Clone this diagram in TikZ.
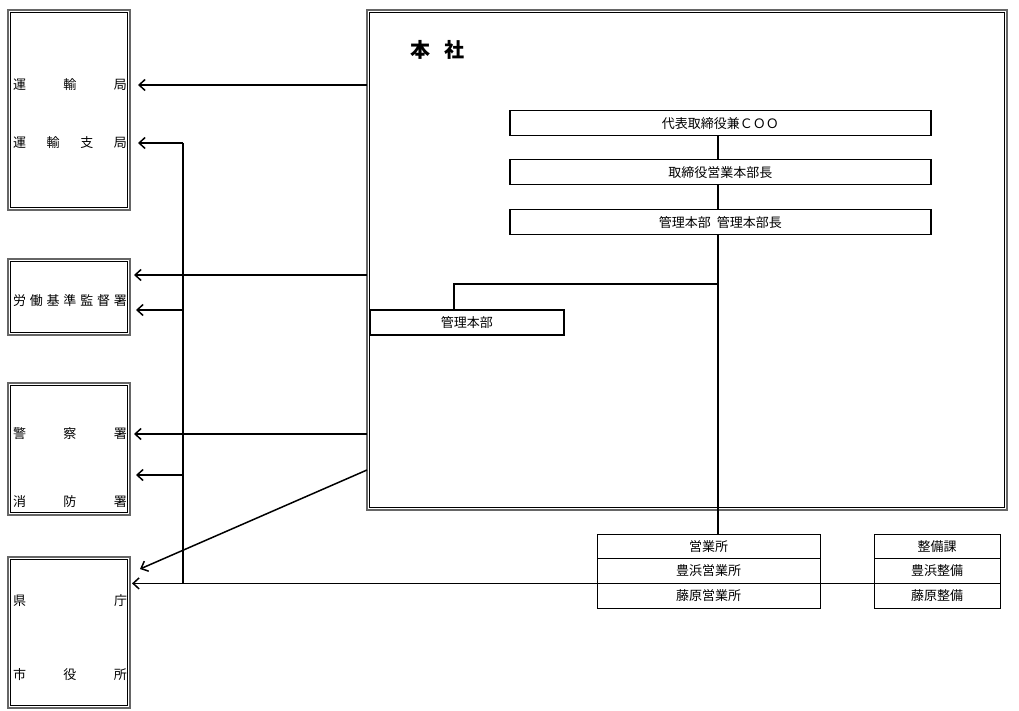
\documentclass[tikz,border=0pt]{standalone}
\usepackage{fontspec}
\setmainfont{Noto Sans CJK JP}
\usetikzlibrary{positioning, arrows.meta}

\newcommand{\spreadrow}[1]{\makebox[114pt][s]{#1}}

\tikzset{
  govbox/.style={draw=black!60, line width=1.6pt, anchor=north west, inner sep=0pt, outer sep=0pt},
  innerframe/.style={line width=0.9pt},
  orgbox/.style={draw, line width=1.5pt, minimum width=421pt, minimum height=25pt,
    inner sep=0pt, anchor=north west, font=\fontsize{13}{15}\selectfont},
  cellbox/.style={draw, line width=1pt, minimum height=24.7pt, inner sep=0pt,
    outer sep=0pt, font=\fontsize{13}{15}\selectfont},
  rowtext/.style={inner sep=0pt, font=\fontsize{13}{15}\selectfont},
  link/.style={line width=1.5pt},
  arr/.style={line width=1.5pt, -{Straight Barb[length=6pt,width=11pt]}, shorten >=6pt},
}

\begin{document}
\begin{tikzpicture}[x=1pt, y=-1pt]
\useasboundingbox (0,0) rectangle (1019,711);

% authorities on the left
\node[govbox, minimum width=122pt, minimum height=200pt] (unyu) at (8,10) {};
\node[rowtext] (unyu-a) at (70,85) {\spreadrow{運\hfill 輸\hfill 局}};
\node[rowtext] (unyu-b) at (70,143) {\spreadrow{運\hfill 輸\hfill 支\hfill 局}};

\node[govbox, minimum width=122pt, minimum height=76pt] (roudou) at (8,259) {};
\node[rowtext] (roudou-a) at (70,301) {\spreadrow{労\hfill 働\hfill 基\hfill 準\hfill 監\hfill 督\hfill 署}};

\node[govbox, minimum width=122pt, minimum height=132pt] (keisatsu) at (8,383) {};
\node[rowtext] (keisatsu-a) at (70,434) {\spreadrow{警\hfill 察\hfill 署}};
\node[rowtext] (keisatsu-b) at (70,502) {\spreadrow{消\hfill 防\hfill 署}};

\node[govbox, minimum width=122pt, minimum height=151pt] (ken) at (8,557) {};
\node[rowtext] (ken-a) at (70,601) {\spreadrow{県\hfill 庁}};
\node[rowtext] (ken-b) at (70,675) {\spreadrow{市\hfill 役\hfill 所}};

% head office
\node[govbox, minimum width=640pt, minimum height=500pt] (honsha) at (367,10) {};
\node[anchor=west, inner sep=0pt, font=\fontsize{20}{22}\selectfont\bfseries] (title) at (410,50) {本\hspace{14pt}社};

% double frames
\foreach \b in {unyu, roudou, keisatsu, ken, honsha}
\draw[innerframe] ([shift={(2.6pt,-2.6pt)}]\b.north west) rectangle ([shift={(-2.6pt,2.6pt)}]\b.south east);

\node[orgbox] (ceo) at (509,110) {代表取締役兼ＣＯＯ};
\node[orgbox] (eigyo-chief) at (509,159) {取締役営業本部長};
\node[orgbox] (kanri-chief) at (509,209) {管理本部\hspace{6pt}管理本部長};
\node[orgbox, minimum width=194pt] (kanri) at (369,309) {管理本部};

% branch offices
\node[cellbox, minimum width=223pt, anchor=north west] (sales-a) at (597,534) {営業所};
\node[cellbox, minimum width=223pt, below=0pt of sales-a] (sales-b) {豊浜営業所};
\node[cellbox, minimum width=223pt, below=0pt of sales-b] (sales-c) {藤原営業所};

\node[cellbox, minimum width=126pt, anchor=north west] (maint-a) at (874,534) {整備課};
\node[cellbox, minimum width=126pt, below=0pt of maint-a] (maint-b) {豊浜整備};
\node[cellbox, minimum width=126pt, below=0pt of maint-b] (maint-c) {藤原整備};

% lines inside head office
\coordinate (trunk) at (718,284);
\coordinate (kanri-top) at (454,284);
\draw[link] (ceo.south -| trunk) -- (eigyo-chief.north -| trunk);
\draw[link] (eigyo-chief.south -| trunk) -- (kanri-chief.north -| trunk);
\draw[link] (kanri-chief.south -| trunk) -- (trunk |- sales-a.north);
\draw[link] (trunk) -- (kanri-top) -- (kanri-top |- kanri.north);
\draw[link] (sales-c.north east) -- (maint-c.north west);

% reports to authorities
\coordinate (bus-top) at (183,143);
\coordinate (bus-r) at (183,310);
\coordinate (bus-s) at (183,475);
\coordinate (bus-bot) at (sales-c.north west -| bus-top);
\coordinate (h-roudou) at (367,275);
\coordinate (h-keisatsu) at (367,434);
\coordinate (h-ken) at (367,470);
\coordinate (ken-tip) at (140,569);

\draw[arr, shorten >=8pt] (honsha.west |- unyu-a) -- (unyu.east |- unyu-a);
\draw[arr, shorten >=8pt] (bus-top) -- (unyu.east |- bus-top);
\draw[link] (bus-top) -- (bus-bot);
\draw[arr, shorten >=4pt] (h-roudou) -- (roudou.east |- h-roudou);
\draw[arr] (bus-r) -- (roudou.east |- bus-r);
\draw[arr, shorten >=4pt] (h-keisatsu) -- (keisatsu.east |- h-keisatsu);
\draw[arr] (bus-s) -- (keisatsu.east |- bus-s);
\draw[arr, shorten >=0pt] (h-ken) -- (ken-tip);
\draw[arr, shorten >=2pt] (sales-c.north west) -- (ken.east |- bus-bot);
\end{tikzpicture}
\end{document}
